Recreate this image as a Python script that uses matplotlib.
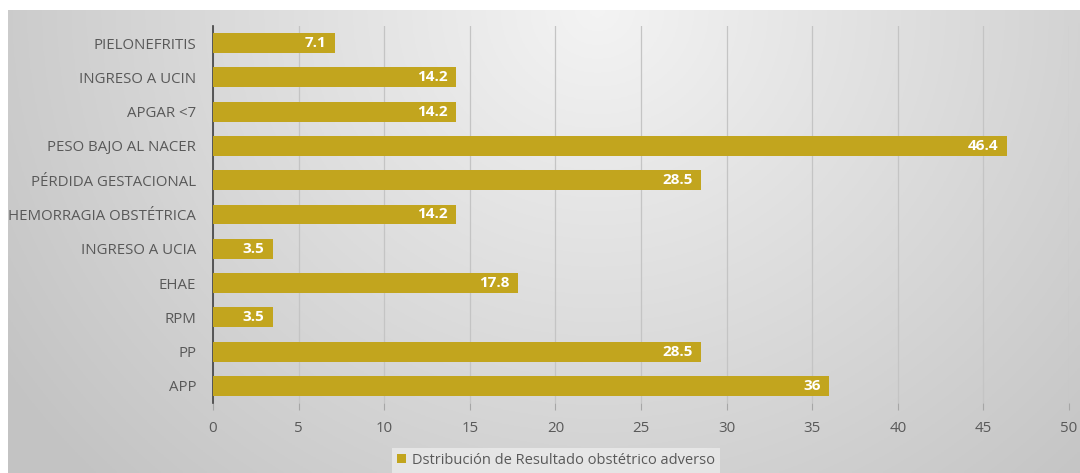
import matplotlib
matplotlib.use("Agg")
import matplotlib.pyplot as plt
import numpy as np

categories = ["APP", "PP", "RPM", "EHAE", "INGRESO A UCIA", "HEMORRAGIA OBSTÉTRICA",
              "PÉRDIDA GESTACIONAL", "PESO BAJO AL NACER", "APGAR <7",
              "INGRESO A UCIN", "PIELONEFRITIS"]
values = [36, 28.5, 3.5, 17.8, 3.5, 14.2, 28.5, 46.4, 14.2, 14.2, 7.1]
series_name = "Dstribución de Resultado obstétrico adverso"
bar_color = "#C2A51E"
text_gray = "#595959"

plt.rcParams['font.family'] = ['Open Sans', 'DejaVu Sans']

fig = plt.figure(figsize=(10.8, 4.73), dpi=100, facecolor="white")

# background panel with radial gradient (light near top centre, darker at the edges)
bg = fig.add_axes([8 / 1080, 0, 1 - 8 / 1080, 1 - 10 / 473], zorder=-10)
xx, yy = np.meshgrid(np.linspace(0, 1, 400), np.linspace(0, 1, 200))
d = np.sqrt(((xx - 0.55) / 0.6) ** 2 + ((yy - 0.0) / 1.3) ** 2)
shade = 0.955 - 0.17 * np.clip(d, 0, 1.1)
bg.imshow(np.dstack([shade] * 3), aspect="auto", extent=[0, 1, 0, 1], origin="upper")
bg.axis("off")

ax = fig.add_axes([213 / 1080, 1 - 403 / 473, (1069 - 213) / 1080, 377 / 473])
ax.patch.set_alpha(0)
y = np.arange(len(categories))
bars = ax.barh(y, values, height=0.58, color=bar_color, zorder=3)
for b, v in zip(bars, values):
    ax.text(b.get_width() - 0.5, b.get_y() + b.get_height() / 2, f"{v:g}",
            ha="right", va="center", color="white", fontsize=11, fontweight="bold", zorder=4)

ax.set_xlim(0, 50)
ax.set_ylim(-0.5, len(categories) - 0.5)
ax.set_xticks(range(0, 51, 5))
ax.set_yticks(y)
ax.set_yticklabels(categories)
ax.tick_params(axis="y", length=0, labelsize=10.8, labelcolor=text_gray, pad=12)
ax.tick_params(axis="x", length=5, color="#a6a6a6", labelsize=10.8, labelcolor=text_gray, pad=8)
ax.grid(axis="x", color="#c4c4c4", linewidth=0.9, zorder=0)
for s in ["top", "right", "bottom"]:
    ax.spines[s].set_visible(False)
ax.spines["left"].set_color("#404040")
ax.spines["left"].set_linewidth(1.2)

leg = fig.legend(handles=[bars], labels=[series_name], loc="center",
                 bbox_to_anchor=(0.515, 0.027), frameon=True, fontsize=10.5,
                 handlelength=0.6, handleheight=0.6, handletextpad=0.4,
                 labelcolor=text_gray, fancybox=False, borderpad=0.35)
leg.get_frame().set_facecolor("#ebebeb")
leg.get_frame().set_edgecolor("none")

fig.savefig("out.png", dpi=100)
